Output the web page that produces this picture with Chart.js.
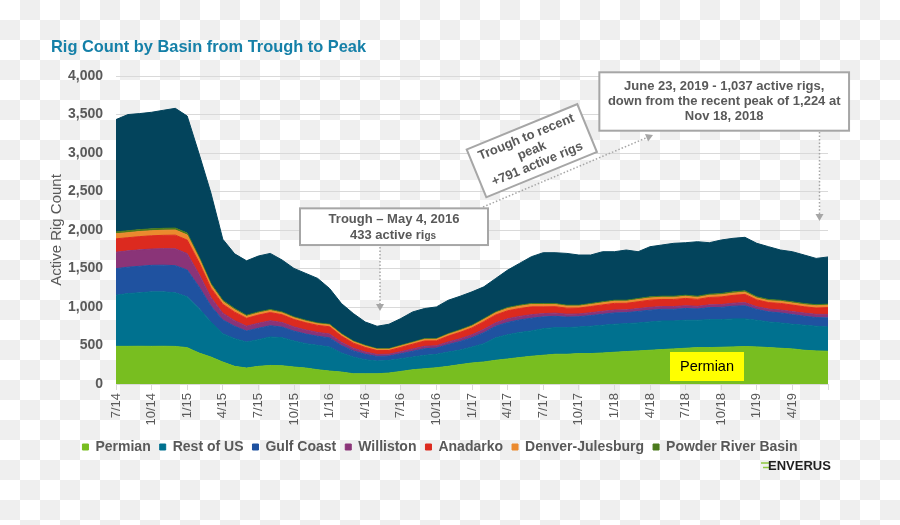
<!DOCTYPE html>
<html>
<head>
<meta charset="utf-8">
<script src="https://cdn.jsdelivr.net/npm/chart.js@4.4.1/dist/chart.umd.min.js"></script>
<style>
  html, body { margin: 0; padding: 0; width: 900px; height: 525px; overflow: hidden; }
  body { background: repeating-conic-gradient(#efefef 0 25%, #ffffff 0 50%) 0 0 / 40px 40px; }
  #wrap { position: absolute; left: 0; top: 0; width: 900px; height: 525px; }
</style>
</head>
<body>
<div id="wrap"><canvas id="chart" width="900" height="525"></canvas></div>
<script>
/* Rig Count by Basin from Trough to Peak — stacked area, monthly readings */

const GRAY = "#595959";
const NOTE_LINE = "#a6a6a6";
const FONT = "'Liberation Sans', Arial, sans-serif";

Chart.defaults.font.family = FONT;
Chart.defaults.color = GRAY;

// ----- data (one point per month) -----
const months = [
  "2014-07","2014-08","2014-09","2014-10","2014-11","2014-12",
  "2015-01","2015-02","2015-03","2015-04","2015-05","2015-06","2015-07","2015-08","2015-09","2015-10","2015-11","2015-12",
  "2016-01","2016-02","2016-03","2016-04","2016-05","2016-06","2016-07","2016-08","2016-09","2016-10","2016-11","2016-12",
  "2017-01","2017-02","2017-03","2017-04","2017-05","2017-06","2017-07","2017-08","2017-09","2017-10","2017-11","2017-12",
  "2018-01","2018-02","2018-03","2018-04","2018-05","2018-06","2018-07","2018-08","2018-09","2018-10","2018-11","2018-12",
  "2019-01","2019-02","2019-03","2019-04","2019-05","2019-06","2019-07"
];
const tickLabels = ["7/14","10/14","1/15","4/15","7/15","10/15","1/16","4/16","7/16","10/16",
                    "1/17","4/17","7/17","10/17","1/18","4/18","7/18","10/18","1/19","4/19"];

const permian = [489,489,490,489,490,488,472,402,350,285, 229,207,229,241,237,220,207,185,168,155,
                 133,133,133,142,163,185,198,211,229,252, 273,286,308,325,343,360,373,386,386,395,
                 395,403,412,421,430,438,447,456,464,473, 473,477,482,486,482,473,464,456,438,430,425];
const restOfUS = [664,686,694,708,707,696,660,578,456,369, 360,338,347,370,365,338,317,317,312,247,
                  217,182,165,165,165,165,174,174,186,188, 207,238,292,315,327,329,346,346,346,346,
                  355,360,364,363,363,368,372,363,364,355, 363,359,363,359,346,333,329,320,325,320,316];
const gulfCoast = [345,342,345,344,346,353,348,281,207,178, 160,143,148,146,137,128,124,118,119,98,
                   80,71,60,56,65,75,86,82,98,112, 122,143,150,160,162,165,153,147,137,133,
                   139,143,147,143,149,153,151,151,153,147, 156,159,165,171,140,131,130,125,117,113,118];
const williston = [214,212,213,212,215,219,213,165,112,88, 74,63,65,64,59,55,53,50,50,42,
                   34,30,26,24,27,30,32,30,34,36, 38,44,45,47,46,46,42,41,38,36,
                   37,38,38,36,37,37,36,36,36,34, 36,37,39,41,36,36,38,39,41,42,45];
const anadarko = [173,171,172,172,173,177,176,151,120,115, 110,102,106,107,101,96,94,91,94,80,
                  66,59,50,48,55,62,68,63,75,83, 88,99,101,104,102,102,88,84,78,76,
                  80,83,86,85,89,93,92,92,94,90, 96,99,102,106,88,84,85,85,82,82,88];
const denverJulesburg = [66,65,66,65,66,67,66,53,40,35, 31,26,27,25,24,22,21,21,22,21,
                         19,18,17,16,18,19,21,20,22,23, 24,27,28,29,30,30,30,28,26,25,
                         26,27,27,26,28,28,27,27,27,26, 27,28,29,30,25,25,27,27,27,28,30];
const powderRiver = [24,25,25,25,25,25,25,23,21,18, 16,14,14,14,13,12,12,11,11,11,
                     9,9,8,8,9,9,10,9,10,11, 11,12,12,13,13,13,13,13,12,12,
                     13,13,14,14,14,15,15,15,15,15, 16,16,17,17,15,15,15,15,15,15,15];
// dark top layer, not listed in the legend
const other = [1459,1509,1507,1514,1533,1555,1520,1337,1174,792, 710,707,726,729,674,630,608,578,464,391,
               357,304,291,317,348,391,391,412,434,435, 434,413,435,486,543,608,660,660,673,652,
               630,651,630,652,608,651,665,687,682,708, 668,695,695,695,695,686,652,651,630,601,613];

const series = [
  ["Permian", permian, "#78be20"],
  ["Rest of US", restOfUS, "#00718f"],
  ["Gulf Coast", gulfCoast, "#1f52a0"],
  ["Williston", williston, "#8a3478"],
  ["Anadarko", anadarko, "#dc2a1f"],
  ["Denver-Julesburg", denverJulesburg, "#eb8a2e"],
  ["Powder River Basin", powderRiver, "#4b7a1c"],
  ["Other", other, "#03445c"],
];

// ----- annotation helpers -----
function arrow(ctx, x1, y1, x2, y2) {
  const a = Math.atan2(y2 - y1, x2 - x1);
  ctx.save();
  ctx.strokeStyle = NOTE_LINE;
  ctx.lineWidth = 1.5;
  ctx.setLineDash([1.5, 2]);
  ctx.beginPath();
  ctx.moveTo(x1, y1);
  ctx.lineTo(x2 - 6 * Math.cos(a), y2 - 6 * Math.sin(a));
  ctx.stroke();
  ctx.setLineDash([]);
  ctx.translate(x2, y2);
  ctx.rotate(a);
  ctx.fillStyle = NOTE_LINE;
  ctx.beginPath();
  ctx.moveTo(0, 0); ctx.lineTo(-7, -4); ctx.lineTo(-7, 4);
  ctx.closePath(); ctx.fill();
  ctx.restore();
}

function noteBox(ctx, cx, cy, w, h, lines, angle = 0, lh = 15) {
  ctx.save();
  ctx.translate(cx, cy);
  ctx.rotate(angle);
  ctx.fillStyle = "#ffffff";
  ctx.fillRect(-w / 2, -h / 2, w, h);
  ctx.strokeStyle = NOTE_LINE;
  ctx.lineWidth = 2;
  ctx.strokeRect(-w / 2, -h / 2, w, h);
  ctx.fillStyle = GRAY;
  ctx.font = "bold 13px " + FONT;
  ctx.textAlign = "center";
  ctx.textBaseline = "middle";
  lines.forEach((t, i) => ctx.fillText(t, 0, (i - (lines.length - 1) / 2) * lh));
  ctx.restore();
}

const notes = {
  id: "notes",
  afterDraw(chart) {
    const ctx = chart.ctx;
    ctx.save();

    // title
    ctx.font = "bold 16.4px " + FONT;
    ctx.fillStyle = "#1580a8";
    ctx.textAlign = "left";
    ctx.textBaseline = "middle";
    ctx.fillText("Rig Count by Basin from Trough to Peak", 51, 47);

    // arrows
    arrow(ctx, 380, 247, 380, 311);
    arrow(ctx, 483, 207, 653, 135);
    arrow(ctx, 819.5, 132, 819.5, 221);

    // trough box (second line has the small "gs" of the original)
    noteBox(ctx, 394, 226.7, 188, 36.7, ["Trough \u2013 May 4, 2016", ""]);
    ctx.fillStyle = GRAY;
    ctx.textAlign = "left";
    ctx.textBaseline = "alphabetic";
    ctx.font = "bold 13px " + FONT;
    const a = "433 active ri";
    const w1 = ctx.measureText(a).width;
    ctx.font = "bold 10px " + FONT;
    const w2 = ctx.measureText("gs").width;
    const sx = 393 - (w1 + w2) / 2;
    ctx.font = "bold 13px " + FONT;
    ctx.fillText(a, sx, 239);
    ctx.font = "bold 10px " + FONT;
    ctx.fillText("gs", sx + w1, 239);

    noteBox(ctx, 531.8, 150.7, 119.5, 51.7,
      ["Trough to recent", "peak", "+791 active rigs"], -22.3 * Math.PI / 180, 14.5);

    noteBox(ctx, 724.2, 101.5, 249.7, 58.4,
      ["June 23, 2019 - 1,037 active rigs,", "down from the recent peak of 1,224 at", "Nov 18, 2018"],
      0, 15.3);

    // Permian tag
    ctx.fillStyle = "#ffff00";
    ctx.fillRect(670, 352, 74, 29);
    ctx.fillStyle = "#000000";
    ctx.font = "14.5px " + FONT;
    ctx.textAlign = "center";
    ctx.textBaseline = "middle";
    ctx.fillText("Permian", 707, 367);

    // logo
    ctx.strokeStyle = "#8dc63f";
    ctx.lineWidth = 1.5;
    ctx.beginPath();
    ctx.moveTo(761, 463); ctx.lineTo(769, 463);
    ctx.moveTo(763, 467.5); ctx.lineTo(769, 467.5);
    ctx.stroke();
    ctx.fillStyle = "#1f1f1f";
    ctx.font = "bold 13px " + FONT;
    ctx.textAlign = "left";
    ctx.fillText("ENVERUS", 768, 466);

    ctx.restore();
  },
};

new Chart(document.getElementById("chart"), {
  type: "line",
  data: {
    labels: months,
    datasets: series.map(([label, data, color], i) => ({
      label,
      data,
      backgroundColor: color,
      borderColor: color,
      borderWidth: 1,
      pointRadius: 0,
      tension: 0,
      fill: i === 0 ? "origin" : "-1",
    })),
  },
  options: {
    responsive: false,
    animation: false,
    devicePixelRatio: 1,
    layout: { padding: { top: 76, right: 72, bottom: 61, left: 52 } },
    scales: {
      x: {
        type: "category",
        offset: false,
        border: { display: false },
        grid: {
          drawOnChartArea: false,
          tickLength: 6,
          tickColor: (c) => (c.index % 3 === 0 ? "#d9d9d9" : "rgba(0,0,0,0)"),
        },
        ticks: {
          autoSkip: false,
          minRotation: 90,
          maxRotation: 90,
          padding: 3,
          color: GRAY,
          font: { size: 13 },
          callback: (v, i) => (i % 3 === 0 && tickLabels[i / 3]) ? tickLabels[i / 3] : "",
        },
        afterFit: (s) => { s.height = 47; },
      },
      y: {
        stacked: true,
        min: 0,
        max: 4000,
        border: { display: false },
        grid: { color: "#d9d9d9", drawTicks: false },
        ticks: {
          stepSize: 500,
          padding: 13,
          color: GRAY,
          font: { size: 14, weight: "bold" },
          callback: (v) => v.toLocaleString("en-US"),
        },
        title: {
          display: true,
          text: "Active Rig Count",
          color: GRAY,
          font: { size: 15 },
          padding: { top: -4, bottom: 0 },
        },
        afterFit: (s) => { s.width = 64; },
      },
    },
    plugins: {
      legend: {
        position: "bottom",
        labels: {
          boxWidth: 6,
          boxHeight: 6,
          padding: 9,
          color: GRAY,
          font: { size: 14, weight: "bold" },
          filter: (item) => item.datasetIndex < 7,
        },
      },
      tooltip: { enabled: false },
    },
  },
  plugins: [notes],
});
</script>
</body>
</html>
